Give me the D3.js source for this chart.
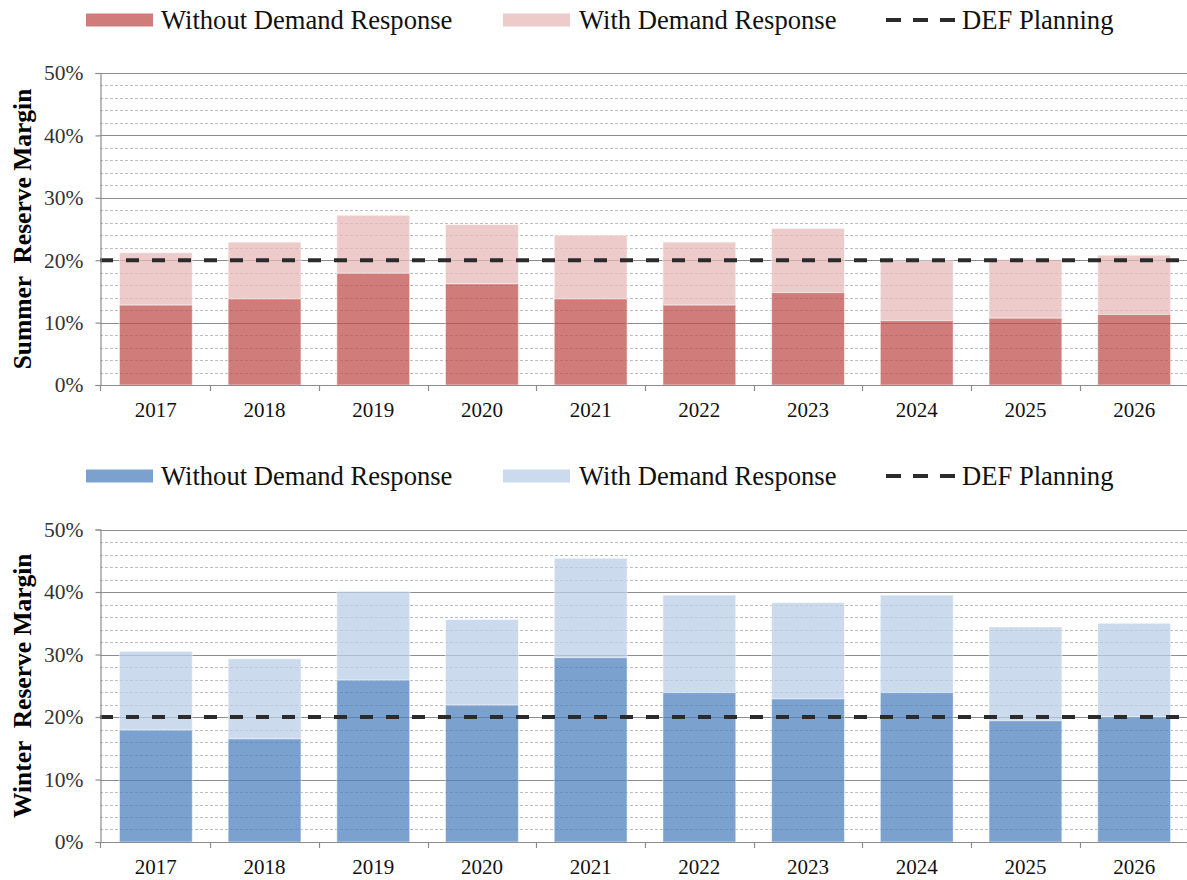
<!DOCTYPE html>
<html>
<head>
<meta charset="utf-8">
<script src="https://cdn.jsdelivr.net/npm/d3@7"></script>
<style>
  html, body { margin: 0; padding: 0; background: #fff; }
  svg { display: block; }
  text { font-family: "Liberation Serif", "Times New Roman", serif; }
</style>
</head>
<body>
<svg id="chart" width="1187" height="880"></svg>
<script>
// ---- Data ----
const years = ["2017","2018","2019","2020","2021","2022","2023","2024","2025","2026"];
const summerWithout = [12.8, 13.8, 17.9, 16.2, 13.8, 12.8, 14.8, 10.3, 10.7, 11.3];
const summerWith    = [21.2, 22.9, 27.2, 25.7, 24.0, 22.9, 25.1, 19.9, 20.1, 20.8];
const winterWithout = [17.9, 16.5, 25.9, 21.9, 29.5, 23.9, 22.9, 23.9, 19.4, 20.0];
const winterWith    = [30.5, 29.3, 40.1, 35.6, 45.4, 39.5, 38.3, 39.5, 34.4, 35.0];
const planningLevel = 20;
const yTicks = [0, 10, 20, 30, 40, 50];
const legendLabels = ["Without Demand Response", "With Demand Response", "DEF Planning"];
const panelTitles = ["Summer  Reserve Margin", "Winter  Reserve Margin"];

const svg = d3.select("#chart");
const left = 100, right = 1187;

const x = d3.scaleBand().domain(years).range([left + 1.5, right + 1.5]).paddingInner(0.33).paddingOuter(0.165);

function drawPanel(opts) {
  const g = svg.append("g");
  const y = d3.scaleLinear().domain([0, 50]).range([opts.bottom, opts.top]);

  // minor grid (every 2%)
  const minor = d3.range(0, 50.01, 2).filter(v => v % 10 !== 0);
  g.append("g").selectAll("line").data(minor).join("line")
    .attr("x1", left).attr("x2", right)
    .attr("y1", d => Math.round(y(d)) + 0.5).attr("y2", d => Math.round(y(d)) + 0.5)
    .attr("stroke", "#bdbdbd").attr("stroke-width", 1).attr("stroke-dasharray", "3,2");

  // major grid
  g.append("g").selectAll("line").data(yTicks.filter(v => v > 0)).join("line")
    .attr("x1", left).attr("x2", right)
    .attr("y1", d => Math.round(y(d)) + 0.5).attr("y2", d => Math.round(y(d)) + 0.5)
    .attr("stroke", "#8c8c8c").attr("stroke-width", 1.2);

  // bars
  const rows = years.map((yr, i) => ({ yr, wo: opts.without[i], w: opts.with[i] }));
  g.append("g").selectAll("rect").data(rows).join("rect")
    .attr("x", d => x(d.yr)).attr("width", x.bandwidth())
    .attr("y", d => y(d.w)).attr("height", d => y(d.wo) - y(d.w))
    .attr("fill", opts.light).attr("fill-opacity", 0.75)
    .attr("stroke", "#fff").attr("stroke-opacity", 0.5).attr("stroke-width", 1);
  g.append("g").selectAll("rect").data(rows).join("rect")
    .attr("x", d => x(d.yr)).attr("width", x.bandwidth())
    .attr("y", d => y(d.wo)).attr("height", d => y(0) - y(d.wo))
    .attr("fill", opts.dark).attr("fill-opacity", 0.75)
    .attr("stroke", "#fff").attr("stroke-opacity", 0.5).attr("stroke-width", 1);

  // planning line
  g.append("line")
    .attr("x1", left).attr("x2", right)
    .attr("y1", y(planningLevel)).attr("y2", y(planningLevel))
    .attr("stroke", "#2b2b2b").attr("stroke-width", 4)
    .attr("stroke-dasharray", "13,13");

  // y axis
  const yAxis = d3.axisLeft(y).tickValues(yTicks).tickFormat(d => d + "%").tickSize(5).tickPadding(12);
  const ya = g.append("g").attr("transform", `translate(${left + 0.5},0)`).call(yAxis);
  ya.select(".domain").attr("stroke", "#8c8c8c").attr("stroke-width", 1.2);
  ya.selectAll(".tick line").attr("stroke", "#8c8c8c").attr("stroke-width", 1.2);
  ya.selectAll(".tick text").attr("font-size", 21.5).attr("fill", "#333");

  // x axis
  const xa = g.append("g").attr("transform", `translate(0,${opts.bottom + 0.5})`)
    .call(d3.axisBottom(x).tickSize(0).tickPadding(17));
  xa.select(".domain").attr("d", `M${left},0H${right}`).attr("stroke", "#8c8c8c").attr("stroke-width", 1.2);
  xa.selectAll(".tick text").attr("font-size", 21).attr("fill", "#111");
  // category separator ticks
  const bounds = years.map(yr => x(yr) - x.step() * x.paddingInner() / 2).concat([right]);
  g.append("g").selectAll("line").data(bounds).join("line")
    .attr("x1", (d, i) => i === 0 ? left + 0.5 : Math.round(d) + 0.5)
    .attr("x2", (d, i) => i === 0 ? left + 0.5 : Math.round(d) + 0.5)
    .attr("y1", opts.bottom).attr("y2", opts.bottom + 6)
    .attr("stroke", "#8c8c8c").attr("stroke-width", 1.2);

  // y title
  g.append("text")
    .attr("transform", `translate(31,${(opts.top + opts.bottom) / 2}) rotate(-90)`)
    .attr("text-anchor", "middle")
    .attr("font-size", 25.5).attr("font-weight", "bold").attr("fill", "#000")
    .style("white-space", "pre")
    .text(opts.title);

  // legend
  const ly = opts.legendY;
  const fs = 26.6;
  const lg = g.append("g");
  lg.append("rect").attr("x", 86).attr("y", ly - 6.5).attr("width", 67).attr("height", 13)
    .attr("fill", opts.dark).attr("fill-opacity", 0.75);
  lg.append("text").attr("x", 161).attr("y", ly).attr("dy", "0.35em")
    .attr("font-size", fs).attr("fill", "#111").text(legendLabels[0]);
  lg.append("rect").attr("x", 503).attr("y", ly - 6.5).attr("width", 67).attr("height", 13)
    .attr("fill", opts.light).attr("fill-opacity", 0.75);
  lg.append("text").attr("x", 579).attr("y", ly).attr("dy", "0.35em")
    .attr("font-size", fs).attr("fill", "#111").text(legendLabels[1]);
  lg.append("line").attr("x1", 886).attr("x2", 958).attr("y1", ly).attr("y2", ly)
    .attr("stroke", "#2b2b2b").attr("stroke-width", 4).attr("stroke-dasharray", "15,12");
  lg.append("text").attr("x", 962).attr("y", ly).attr("dy", "0.35em")
    .attr("font-size", fs).attr("fill", "#111").text(legendLabels[2]);
}

drawPanel({ top: 73, bottom: 385, legendY: 20, without: summerWithout, with: summerWith,
  dark: "#c0504d", light: "#e6b9b8", title: panelTitles[0] });
drawPanel({ top: 529.5, bottom: 842, legendY: 476, without: winterWithout, with: winterWith,
  dark: "#4f81bd", light: "#b9cde5", title: panelTitles[1] });
</script>
</body>
</html>
